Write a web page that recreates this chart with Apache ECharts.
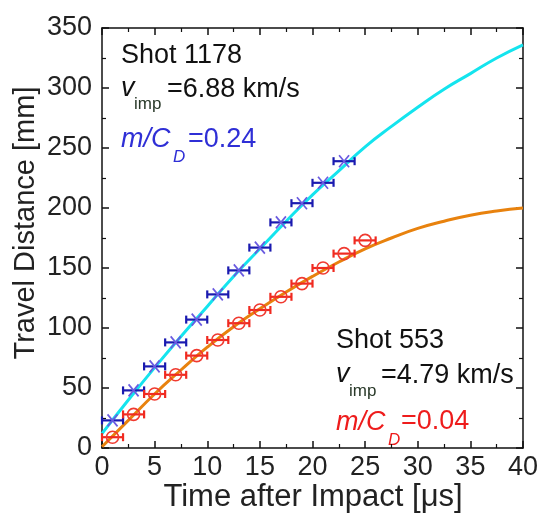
<!DOCTYPE html>
<html>
<head>
<meta charset="utf-8">
<script src="https://cdn.jsdelivr.net/npm/echarts@6/dist/echarts.min.js"></script>
<style>
  html, body { margin: 0; padding: 0; background: #fff; }
  #chart { width: 543px; height: 514px; }
</style>
</head>
<body>
<div id="chart"></div>
<script>
// measured points (time in us, distance in mm)
const blueT = [1, 3, 5, 7, 9, 11, 13, 15, 17, 19, 21, 23];
const blueD = [23, 48, 68, 88, 107, 128, 148, 167, 188, 204, 221, 239];
const redT = [1, 3, 5, 7, 9, 11, 13, 15, 17, 19, 21, 23, 25];
const redD = [9, 28, 45, 61, 77, 90, 104, 115, 126, 137, 150, 162, 173];
const tErr = 1;

// fitted curves
const fitT = [0, 2.5, 5, 7.5, 10, 12.5, 15, 17.5, 20, 22.5, 25, 27.5, 30, 32.5, 35, 37.5, 40];
const fitCyan = [12, 40, 67, 93, 118, 143, 166, 189, 211, 231, 251, 268, 284, 299, 312, 325, 336];
const fitOrange = [1, 23, 45, 65, 84, 101, 116, 130, 143, 155, 166, 175, 183, 189, 194, 197.5, 200];

const xTicks = [0, 5, 10, 15, 20, 25, 30, 35, 40];
const yTicks = [0, 50, 100, 150, 200, 250, 300, 350];

const FONT = 'Liberation Sans';
const chart = echarts.init(document.getElementById('chart'), null, { renderer: 'canvas' });

const zip = (a, b) => a.map((v, i) => [v, b[i], tErr]);

function errorItem(kind) {
    return function (params, api) {
        const x = api.value(0), y = api.value(1), e = api.value(2);
        const c = api.coord([x, y]);
        const l = api.coord([x - e, y]);
        const r = api.coord([x + e, y]);
        const barColor = kind === 'blue' ? '#1a1ab0' : '#f02a20';
        const lw = 2.2;
        const children = [
            { type: 'line', shape: { x1: l[0], y1: l[1], x2: r[0], y2: r[1] }, style: { stroke: barColor, lineWidth: lw } },
            { type: 'line', shape: { x1: l[0], y1: l[1] - 4, x2: l[0], y2: l[1] + 4 }, style: { stroke: barColor, lineWidth: lw } },
            { type: 'line', shape: { x1: r[0], y1: r[1] - 4, x2: r[0], y2: r[1] + 4 }, style: { stroke: barColor, lineWidth: lw } }
        ];
        if (kind === 'blue') {
            children.push(
                { type: 'line', shape: { x1: c[0] - 5, y1: c[1] - 6, x2: c[0] + 5, y2: c[1] + 6 }, style: { stroke: '#6a5ae0', lineWidth: 1.7 } },
                { type: 'line', shape: { x1: c[0] + 5, y1: c[1] - 6, x2: c[0] - 5, y2: c[1] + 6 }, style: { stroke: '#6a5ae0', lineWidth: 1.7 } }
            );
        } else {
            children.push(
                { type: 'circle', shape: { cx: c[0], cy: c[1], r: 6 }, style: { fill: 'none', stroke: '#f03a30', lineWidth: 1.6 } }
            );
        }
        return { type: 'group', children };
    };
}

const axisCommon = {
    type: 'value',
    axisLine: { show: true, onZero: false, lineStyle: { color: '#111', width: 1.5 } },
    axisTick: { show: true, inside: true, length: 7, lineStyle: { color: '#111', width: 1.5 } },
    minorTick: { show: true, splitNumber: 2, length: 4, lineStyle: { color: '#111', width: 1.2 } },
    splitLine: { show: false }
};

const labelStyle = { color: '#222', fontSize: 27, fontFamily: FONT };

const option = {
    animation: false,
    backgroundColor: '#fff',
    grid: { left: 102, right: 20, top: 28, bottom: 66, containLabel: false },
    xAxis: [
        Object.assign({}, axisCommon, {
            position: 'bottom', min: 0, max: 40, interval: 5,
            axisLabel: Object.assign({ margin: 6, formatter: v => xTicks.includes(v) ? String(v) : '' }, labelStyle)
        }),
        Object.assign({}, axisCommon, {
            position: 'top', min: 0, max: 40, interval: 5,
            axisLabel: { show: false }
        })
    ],
    yAxis: [
        Object.assign({}, axisCommon, {
            position: 'left', min: 0, max: 350, interval: 50,
            axisLabel: Object.assign({ margin: 10, formatter: v => yTicks.includes(v) ? String(v) : '' }, labelStyle)
        }),
        Object.assign({}, axisCommon, {
            position: 'right', min: 0, max: 350, interval: 50,
            axisLabel: { show: false }
        })
    ],
    series: [
        {
            type: 'line', name: 'fit 1178', smooth: true, showSymbol: false,
            data: fitT.map((t, i) => [t, fitCyan[i]]),
            lineStyle: { color: '#14e4ee', width: 3 }, z: 2
        },
        {
            type: 'line', name: 'fit 553', smooth: true, showSymbol: false,
            data: fitT.map((t, i) => [t, fitOrange[i]]),
            lineStyle: { color: '#e8820e', width: 3 }, z: 2
        },
        {
            type: 'custom', name: 'Shot 1178', renderItem: errorItem('blue'),
            data: zip(blueT, blueD), encode: { x: 0, y: 1 }, z: 3
        },
        {
            type: 'custom', name: 'Shot 553', renderItem: errorItem('red'),
            data: zip(redT, redD), encode: { x: 0, y: 1 }, z: 3
        }
    ],
    graphic: [
        { type: 'text', x: 313, y: 497, style: { text: 'Time after Impact [\u03bcs]', font: '31px ' + FONT, fill: '#222', align: 'center', verticalAlign: 'middle' } },
        { type: 'text', x: 26, y: 223, rotation: Math.PI / 2, style: { text: 'Travel Distance [mm]', font: '29px ' + FONT, fill: '#222', align: 'center', verticalAlign: 'middle' } },

        // Shot 1178 block
        { type: 'text', x: 121, y: 56, style: { text: 'Shot 1178', font: '27px ' + FONT, fill: '#111', verticalAlign: 'middle' } },
        { type: 'text', x: 121, y: 88, style: { text: 'v', font: 'italic 27px ' + FONT, fill: '#111', verticalAlign: 'middle' } },
        { type: 'text', x: 134, y: 104, style: { text: 'imp', font: '17px ' + FONT, fill: '#2a3a2a', verticalAlign: 'middle' } },
        { type: 'text', x: 167, y: 90, style: { text: '=6.88 km/s', font: '27px ' + FONT, fill: '#111', verticalAlign: 'middle' } },
        { type: 'text', x: 121, y: 139, style: { text: 'm/C', font: 'italic 27px ' + FONT, fill: '#2f2fd6', verticalAlign: 'middle' } },
        { type: 'text', x: 173, y: 157, style: { text: 'D', font: 'italic 17px ' + FONT, fill: '#2f2fd6', verticalAlign: 'middle' } },
        { type: 'text', x: 188, y: 140, style: { text: '=0.24', font: '27px ' + FONT, fill: '#2f2fd6', verticalAlign: 'middle' } },

        // Shot 553 block
        { type: 'text', x: 336, y: 341, style: { text: 'Shot 553', font: '27px ' + FONT, fill: '#111', verticalAlign: 'middle' } },
        { type: 'text', x: 336, y: 374, style: { text: 'v', font: 'italic 27px ' + FONT, fill: '#111', verticalAlign: 'middle' } },
        { type: 'text', x: 349, y: 391, style: { text: 'imp', font: '17px ' + FONT, fill: '#2a3a2a', verticalAlign: 'middle' } },
        { type: 'text', x: 381, y: 376, style: { text: '=4.79 km/s', font: '27px ' + FONT, fill: '#111', verticalAlign: 'middle' } },
        { type: 'text', x: 336, y: 422, style: { text: 'm/C', font: 'italic 27px ' + FONT, fill: '#ee1c1c', verticalAlign: 'middle' } },
        { type: 'text', x: 388, y: 440, style: { text: 'D', font: 'italic 17px ' + FONT, fill: '#ee1c1c', verticalAlign: 'middle' } },
        { type: 'text', x: 401, y: 422, style: { text: '=0.04', font: '27px ' + FONT, fill: '#ee1c1c', verticalAlign: 'middle' } }
    ]
};

chart.setOption(option);
</script>
</body>
</html>
